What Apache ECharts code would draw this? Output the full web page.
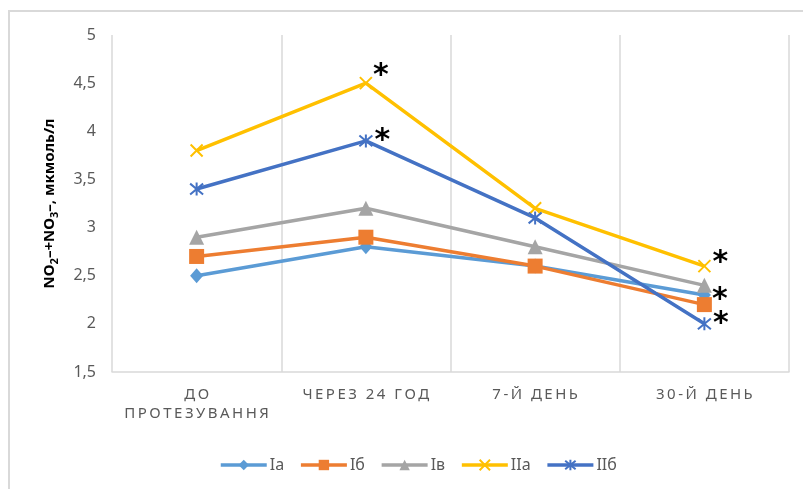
<!DOCTYPE html>
<html>
<head>
<meta charset="utf-8">
<script src="https://cdn.jsdelivr.net/npm/echarts@6/dist/echarts.min.js"></script>
<style>
  html, body { margin: 0; padding: 0; background: #fff; }
  #chart { width: 803px; height: 489px; }
</style>
</head>
<body>
<div id="chart"></div>
<script>
// Time points after prosthetics
const categories = ['ДО\nПРОТЕЗУВАННЯ', 'ЧЕРЕЗ 24 ГОД', '7-Й ДЕНЬ', '30-Й ДЕНЬ'];

// NO2- + NO3- concentration, мкмоль/л
const seriesNames = ['Ia', 'Iб', 'Iв', 'IIa', 'IIб'];
const valuesIa  = [2.5, 2.8, 2.6, 2.3];
const valuesIb  = [2.7, 2.9, 2.6, 2.2];
const valuesIv  = [2.9, 3.2, 2.8, 2.4];
const valuesIIa = [3.8, 4.5, 3.2, 2.6];
const valuesIIb = [3.4, 3.9, 3.1, 2.0];

// Points flagged as significant: category index -> extra label offset [dx, dy]
const starsIa  = { 3: [-2, 5] };
const starsIIa = { 1: [-3, -7], 3: [-2, -3] };
const starsIIb = { 1: [-2, 0], 3: [-2, 0] };

const yTicks = { min: 1.5, max: 5, interval: 0.5 };

const FONT = '"Noto Sans", "Open Sans", sans-serif';
const GRAY_TXT = '#595959';
const GRID_COL = '#D9D9D9';

// widen the tracking of the category captions
const spaced = s => s.split('\n').map(line => line.split('').join('\u2009')).join('\n');

function withStars(values, stars) {
  return values.map((v, i) => (i in stars) ? {
    value: v,
    label: {
      show: true, formatter: '*', position: 'right',
      distance: 3, offset: stars[i],
      color: '#000', fontSize: 30, fontWeight: 'bold', fontFamily: 'DejaVu Sans'
    }
  } : v);
}

const crossPath = 'path://M0,0L10,10M10,0L0,10';
const starPath = 'path://M0,0L10,10M10,0L0,10M5,-1L5,11';

function lineSeries(name, color, data, symbol, size, stroked) {
  return {
    name, type: 'line', data,
    symbol, symbolSize: size,
    lineStyle: { color, width: 3.5 },
    itemStyle: stroked
      ? { color: color, borderColor: color, borderWidth: 2 }
      : { color: color, borderWidth: 0 },
    emphasis: { disabled: true },
    z: 2
  };
}

const chart = echarts.init(document.getElementById('chart'), null, { renderer: 'canvas' });
chart.setOption({
  animation: false,
  textStyle: { fontFamily: FONT },
  grid: { left: 112, right: 14, top: 35, bottom: 117 },
  graphic: [
    { type: 'polyline', shape: { points: [[9, 489], [9, 11], [803, 11]] },
      style: { stroke: GRID_COL, lineWidth: 2, fill: null }, silent: true }
  ],
  legend: {
    left: 214, top: 452,
    itemWidth: 46, itemHeight: 13, itemGap: 15,
    lineStyle: { width: 3.5 },
    textStyle: { color: GRAY_TXT, fontSize: 16, fontFamily: FONT, padding: [0, 0, 0, -2] },
    data: seriesNames
  },
  xAxis: {
    type: 'category', data: categories, boundaryGap: true,
    axisLine: { lineStyle: { color: GRID_COL, width: 1.5 } },
    axisTick: { show: false },
    splitLine: { show: true, interval: 0, lineStyle: { color: GRID_COL, width: 1.5 } },
    axisLabel: {
      interval: 0, hideOverlap: false,
      color: GRAY_TXT, fontSize: 15, margin: 13, lineHeight: 19,
      fontFamily: FONT, formatter: v => spaced(v)
    }
  },
  yAxis: {
    type: 'value', min: yTicks.min, max: yTicks.max, interval: yTicks.interval,
    axisLine: { show: false }, axisTick: { show: false },
    splitLine: { show: false },
    axisLabel: {
      color: GRAY_TXT, fontSize: 16, margin: 16, fontFamily: FONT,
      formatter: v => String(v).replace('.', ',')
    },
    name: '{b|NO}{s|2}{b|–+NO}{s|3}{b|–, мкмоль/л}',
    nameLocation: 'middle', nameGap: 52, nameRotate: 90,
    nameTextStyle: {
      rich: {
        b: { fontSize: 15, fontWeight: 'bold', color: '#000', fontFamily: FONT, lineHeight: 20, verticalAlign: 'middle' },
        s: { fontSize: 11, fontWeight: 'bold', color: '#000', fontFamily: FONT, lineHeight: 20, verticalAlign: 'bottom', padding: [8, 0, 0, 0] }
      }
    }
  },
  series: [
    lineSeries('Ia',  '#5B9BD5', withStars(valuesIa, starsIa), 'diamond', [13, 15], false),
    lineSeries('Iб',  '#ED7D31', valuesIb, 'rect', 15, false),
    lineSeries('Iв',  '#A5A5A5', valuesIv, 'triangle', 15, false),
    lineSeries('IIa', '#FFC000', withStars(valuesIIa, starsIIa), crossPath, 12, true),
    lineSeries('IIб', '#4472C4', withStars(valuesIIb, starsIIb), starPath, 13, true)
  ]
});
</script>
</body>
</html>
